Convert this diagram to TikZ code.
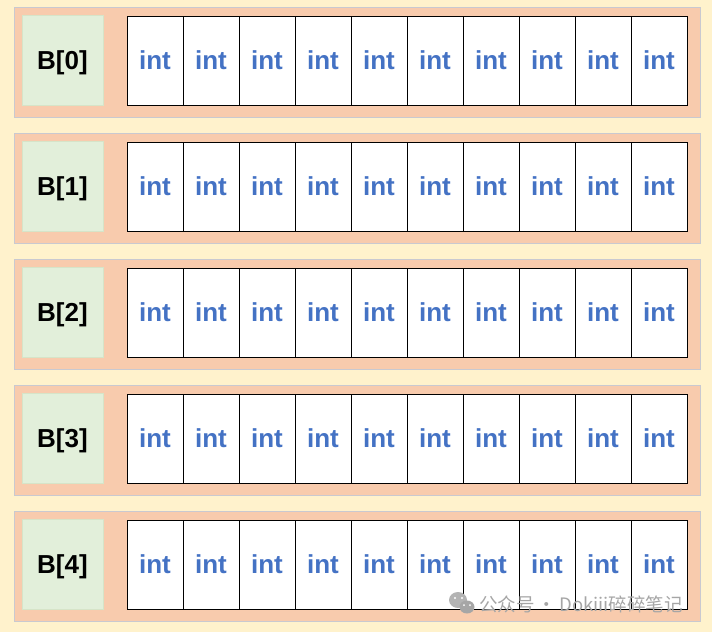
\documentclass[tikz,border=0pt]{standalone}
\usepackage{fontspec}
\setmainfont{Liberation Sans}
\newfontfamily\cjkfont{Noto Sans CJK SC}
\definecolor{bgyellow}{HTML}{FFF2CC}
\definecolor{bandfill}{HTML}{F8CBAD}
\definecolor{bandline}{HTML}{C9C9D0}
\definecolor{labfill}{HTML}{E2EFDA}
\definecolor{labline}{HTML}{D6E4C8}
\definecolor{intblue}{HTML}{4472C4}
\definecolor{wmgrey}{HTML}{A6A6A6}
\begin{document}
\begin{tikzpicture}[x=1pt,y=-1pt,
  band/.style={draw=bandline,fill=bandfill,line width=1pt},
  labelbox/.style={draw=labline,fill=labfill,line width=0.8pt,minimum width=81pt,minimum height=90pt,inner sep=0pt,text depth=0pt,font=\fontsize{26}{28}\selectfont\bfseries,text=black},
  cell/.style={draw=black,fill=white,line width=1pt,minimum width=56pt,minimum height=89pt,inner sep=0pt,font=\fontsize{26}{28}\selectfont\bfseries,text=intblue},
  watermark/.style={text=wmgrey,font=\cjkfont\fontsize{18.5}{20}\selectfont,inner sep=0pt}]
\fill[bgyellow] (0,0) rectangle (712,632);
\useasboundingbox (0,0) rectangle (712,632);
\foreach \r in {0,...,4}{
  \pgfmathsetmacro{\yy}{7+126*\r}
  \draw[band] (14,\yy) rectangle (700,\yy+110);
  \node[labelbox] (lab\r) at (62.5,\yy+53.5) {B[\r]};
  \foreach \c in {0,...,9}{
    \node[cell] (c\r-\c) at (155+56*\c,\yy+53.5) {int};
  }
}
% watermark
\fill[wmgrey!85] (458,600) ellipse (9pt and 8pt);
\fill[wmgrey] (467,607) ellipse (7.5pt and 6.5pt);
\fill[white] (455,598) circle (1.2pt) (462,598) circle (1.2pt);
\fill[white] (464,605) circle (1pt) (470,605) circle (1pt);
\node[watermark,anchor=west] (wm) at (479,604) {公众号\,·\,Dokiii碎碎笔记};
\end{tikzpicture}
\end{document}
